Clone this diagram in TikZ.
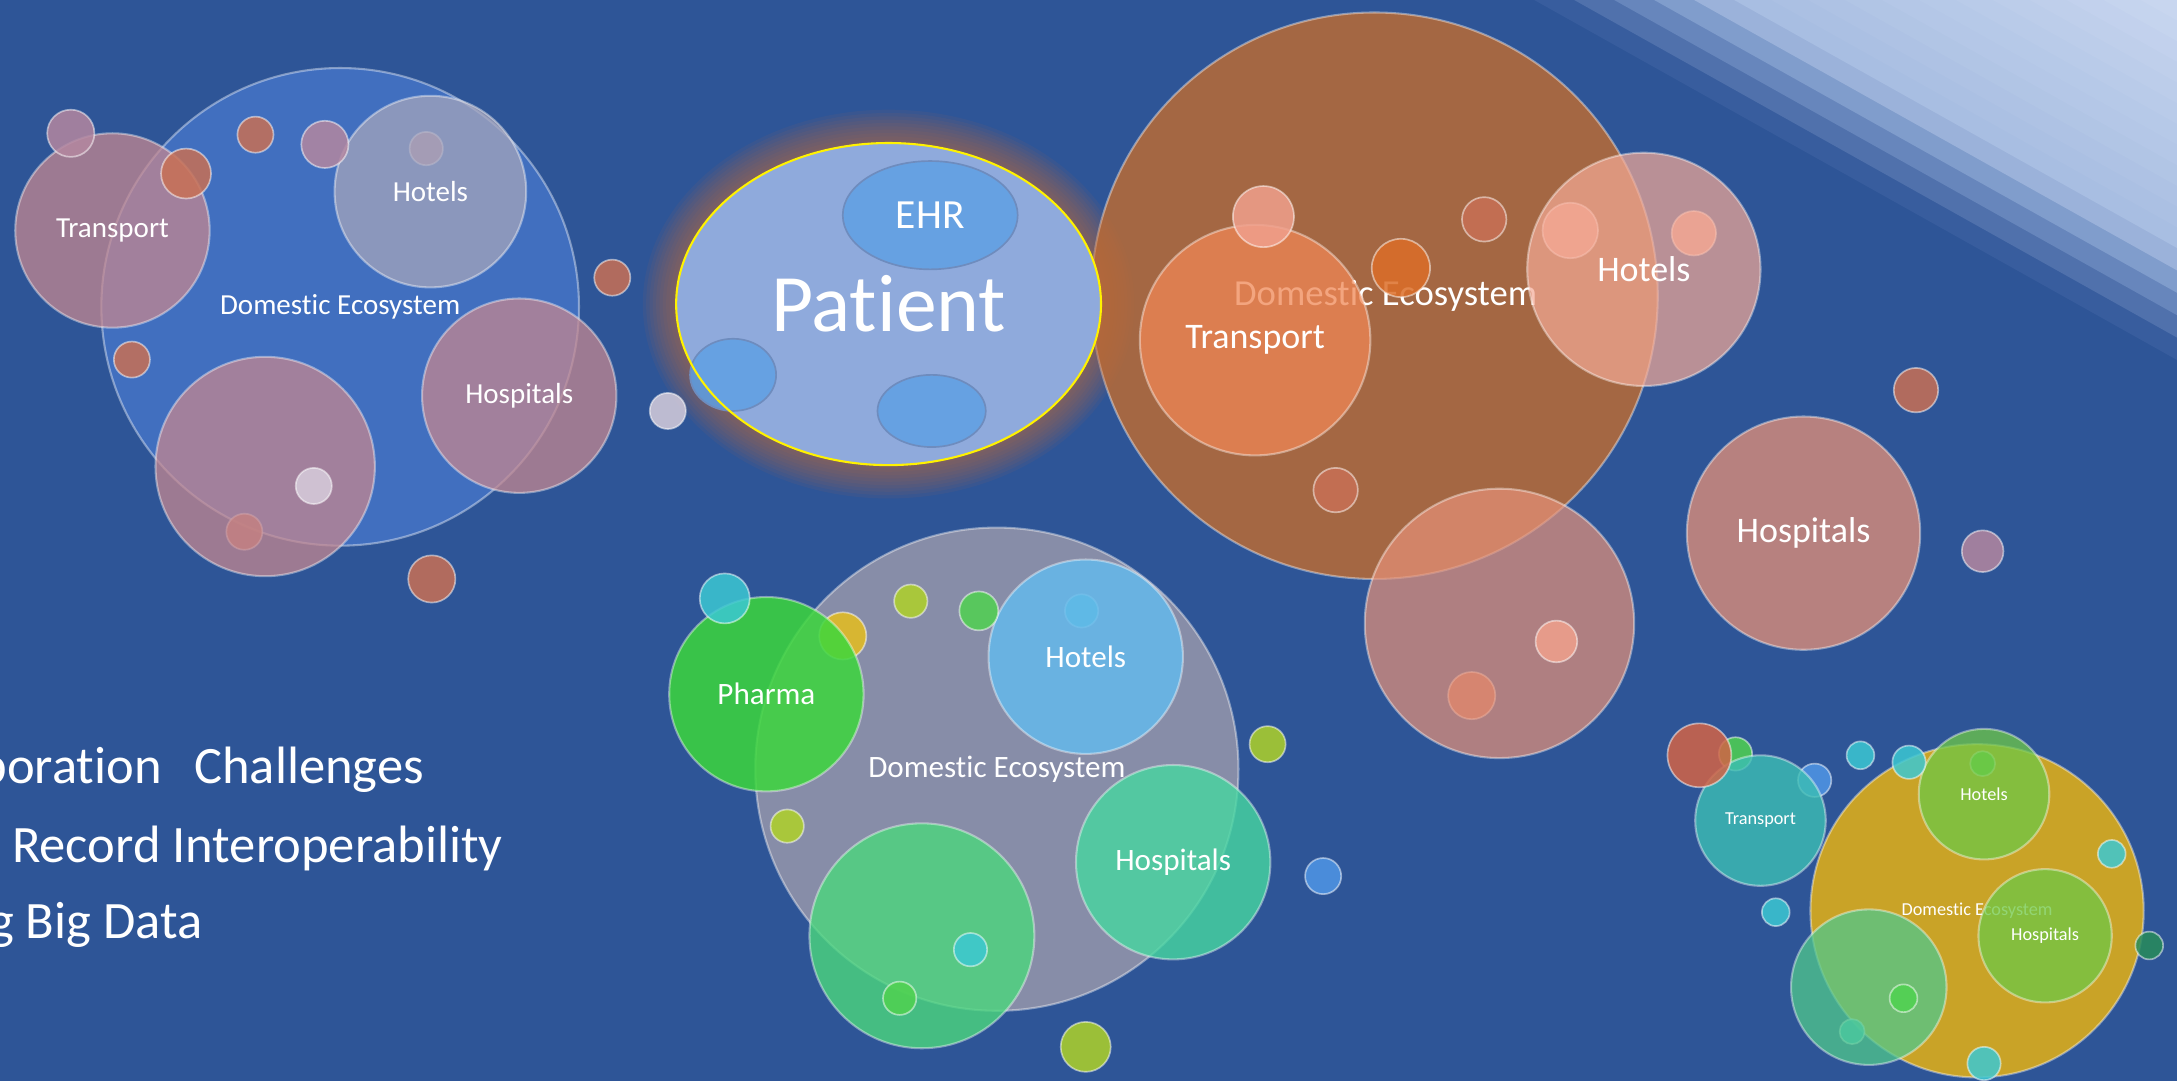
\documentclass[tikz,border=0pt]{standalone}
\usepackage{fontspec}
\setmainfont{Carlito}[Ligatures=NoCommon]
\usetikzlibrary{positioning}
\usetikzlibrary{shapes.geometric,backgrounds}

\definecolor{slidebg}{RGB}{46,85,151}
\definecolor{band1}{RGB}{56,93,158}
\definecolor{band2}{RGB}{80,113,172}
\definecolor{band3}{RGB}{103,134,188}
\definecolor{band4}{RGB}{128,157,204}
\definecolor{band5}{RGB}{155,178,218}
\definecolor{lightA}{RGB}{168,190,226}
\definecolor{lightB}{RGB}{200,214,239}
\definecolor{ecoblue}{RGB}{68,114,196}
\definecolor{pinkA}{RGB}{195,135,145}
\definecolor{hotelgrey}{RGB}{165,165,188}
\definecolor{orangeeco}{RGB}{175,105,60}
\definecolor{orangetr}{RGB}{240,135,85}
\definecolor{peach}{RGB}{245,170,150}
\definecolor{salmon}{RGB}{230,145,120}
\definecolor{greyeco}{RGB}{165,160,175}
\definecolor{pharmagreen}{RGB}{60,215,60}
\definecolor{hotelblue}{RGB}{100,185,235}
\definecolor{hospteal}{RGB}{70,215,160}
\definecolor{leafgreen}{RGB}{75,215,125}
\definecolor{mustard}{RGB}{215,170,30}
\definecolor{trteal}{RGB}{60,190,180}
\definecolor{limegreen}{RGB}{110,200,70}
\definecolor{brgreen}{RGB}{80,200,140}
\definecolor{patientfill}{RGB}{143,170,220}
\definecolor{ehrblue}{RGB}{95,160,228}
\definecolor{ehrrim}{RGB}{110,140,190}
\definecolor{glowc}{RGB}{195,108,60}
\definecolor{smorange}{RGB}{200,112,85}
\definecolor{darkor}{RGB}{220,110,40}
\definecolor{peachs}{RGB}{240,160,140}
\definecolor{smpink}{RGB}{180,135,160}
\definecolor{smwhite}{RGB}{215,205,220}
\definecolor{yelgreen}{RGB}{175,210,40}
\definecolor{smteal}{RGB}{60,200,210}
\definecolor{smgreen}{RGB}{80,210,80}
\definecolor{smblue}{RGB}{80,150,230}
\definecolor{smyellow}{RGB}{230,190,30}
\definecolor{redorange}{RGB}{210,100,70}
\definecolor{dkgreen}{RGB}{40,140,90}

\begin{document}
\begin{tikzpicture}[x=1bp,y=-1bp,
  bub/.style={circle,inner sep=0pt,minimum size=2*#1bp,draw=white,draw opacity=0.4,line width=1.5bp,fill opacity=0.75,text=white,text opacity=1},
  sbub/.style={circle,inner sep=0pt,minimum size=2*#1bp,draw=white,draw opacity=0.5,line width=1.2bp,fill opacity=0.85},
  ehrbub/.style={ellipse,inner sep=0pt,fill=ehrblue,fill opacity=0.85,draw=ehrrim,line width=1.2bp,text=white,text opacity=1},
  fs/.style={font=\fontsize{#1}{#1}\selectfont},
  listtext/.style={fs=38,text=white,inner sep=0pt}]
\useasboundingbox (0,0) rectangle (1568,778.6);
\clip (0,0) rectangle (1568,778.6);
\fill[slidebg] (0,0) rectangle (1568,778.6);
\foreach \a/\c in {1105/band1,1133.8/band2,1162.6/band3,1191.4/band4,1220.2/band5}
  \fill[\c] (\a,0) -- (1568,0) -- (1568,{0.56*(1568-\a)}) -- cycle;
\foreach \i in {0,...,11} {
  \pgfmathsetmacro\a{1249+26.6*\i}
  \pgfmathtruncatemacro\p{9*\i}
  \fill[lightB!\p!lightA] (\a,0) -- (1568,0) -- (1568,{0.56*(1568-\a)}) -- cycle;
}

\node[bub=172,fill=ecoblue,fill opacity=0.9,fs=21] (ecoA) at (245,221) {Domestic Ecosystem};
\foreach \x/\y/\r/\c [count=\i] in {307/107/12/smpink,176/383/13/smorange}
  \node[sbub=\r,fill=\c] (aIn\i) at (\x,\y) {};
\node[bub=70,fill=pinkA,fs=21] (transA) at (81,166) {Transport};
\node[bub=69,fill=hotelgrey,fs=21] (hotelA) at (310,138) {Hotels};
\node[bub=70,fill=pinkA,fs=21] (hospA) at (374,285) {Hospitals};
\node[bub=79,fill=pinkA] (restA) at (191,336) {};
\foreach \x/\y/\r/\c [count=\i] in {51/96/17/smpink,134/125/18/smorange,184/97/13/smorange,234/104/17/smpink,441/200/13/smorange,95/259/13/smorange,226/350/13/smwhite,311/417/17/smorange}
  \node[sbub=\r,fill=\c] (aOut\i) at (\x,\y) {};

\node[bub=204,fill=orangeeco,fill opacity=0.92] (ecoB) at (990,213) {};
\node[fs=26.5,text=white,inner sep=0pt] (ecoBtext) at (998,213) {Domestic Ecosystem};
\foreach \x/\y/\r/\c [count=\i] in {1131/166/20/peachs,1220/168/16/peachs,1060/501/17/smorange}
  \node[sbub=\r,fill=\c] (bIn\i) at (\x,\y) {};
\node[bub=83,fill=orangetr,fs=26] (transB) at (904,245) {Transport};
\node[bub=84,fill=peach,fill opacity=0.7,fs=26] (hotelB) at (1184,194) {Hotels};
\node[bub=97,fill=salmon,fill opacity=0.7] (restB) at (1080,449) {};
\node[bub=84,fill=salmon,fill opacity=0.75,fs=26] (hospB) at (1299,384) {Hospitals};
\foreach \x/\y/\r/\c [count=\i] in {910/156/22/peachs,1009/193/21/darkor,1069/158/16/smorange,962/353/16/smorange,1121/462/15/peachs,1380/281/16/smorange,1428/397/15/smpink}
  \node[sbub=\r,fill=\c] (bOut\i) at (\x,\y) {};

\node[bub=174,fill=greyeco,fs=22.5] (ecoC) at (718,554) {Domestic Ecosystem};
\foreach \x/\y/\r/\c [count=\i] in {607/458/17/smyellow,779/440/12/smteal}
  \node[sbub=\r,fill=\c] (cIn\i) at (\x,\y) {};
\node[bub=70,fill=pharmagreen,fill opacity=0.85,fs=22.5] (pharmaC) at (552,500) {Pharma};
\node[bub=70,fill=hotelblue,fill opacity=0.85,fs=22.5] (hotelC) at (782,473) {Hotels};
\node[bub=70,fill=hospteal,fill opacity=0.8,fs=22.5] (hospC) at (845,621) {Hospitals};
\node[bub=81,fill=leafgreen,fill opacity=0.8] (restC) at (664,674) {};
\foreach \x/\y/\r/\c [count=\i] in {522/431/18/smteal,656/433/12/yelgreen,705/440/14/smgreen,913/536/13/yelgreen,567/595/12/yelgreen,699/684/12/smteal,648/719/12/smgreen,953/631/13/smblue,782/754/18/yelgreen}
  \node[sbub=\r,fill=\c] (cOut\i) at (\x,\y) {};

\node[bub=120,fill=mustard,fill opacity=0.92,fs=13.2] (ecoD) at (1424,656) {Domestic Ecosystem};
\foreach \x/\y/\r/\c [count=\i] in {1428/550/9/smgreen,1334/743/9/smteal,1250/543/12/smgreen,1307/562/12/smblue}
  \node[sbub=\r,fill=\c] (dIn\i) at (\x,\y) {};
\node[bub=47,fill=trteal,fill opacity=0.8,fs=13.2] (transD) at (1268,591) {Transport};
\node[bub=47,fill=limegreen,fill opacity=0.75,fs=13.2] (hotelD) at (1429,572) {Hotels};
\node[bub=48,fill=limegreen,fill opacity=0.75,fs=13.2] (hospD) at (1473,674) {Hospitals};
\node[bub=56,fill=brgreen,fill opacity=0.75] (restD) at (1346,711) {};
\foreach \x/\y/\r/\c [count=\i] in {1224/544/23/redorange,1340/544/10/smteal,1375/549/12/smteal,1521/615/10/smteal,1279/657/10/smteal,1548/681/10/dkgreen,1371/719/10/smgreen,1429/766/12/smteal}
  \node[sbub=\r,fill=\c] (dOut\i) at (\x,\y) {};

\foreach \k in {1,...,10}
  \fill[glowc,opacity=0.075] (640,219) ellipse [x radius=153+2.4*\k, y radius=116+2.4*\k];
\node[ellipse,inner sep=0pt,fill=patientfill,minimum width=306bp,minimum height=232bp,text=white,fs=59] (patient) at (640,219) {Patient};
\node[ehrbub,minimum width=126bp,minimum height=78bp,fs=30] (ehr) at (670,155) {EHR};
\node[ehrbub,minimum width=62bp,minimum height=52bp] (recL) at (528,270) {};
\node[ehrbub,minimum width=78bp,minimum height=52bp] (recB) at (671,296) {};
\draw[yellow,line width=1.5bp] (patient) ellipse [x radius=153, y radius=116];
\node[sbub=13,fill=smwhite] (patDot) at (481,296) {};

\node[listtext,anchor=base west] (collab) at (-15,564) {boration\ \ \hspace{6.4bp}Challenges};
\node[listtext,anchor=base west] (record) at (8.5,621) {Record Interoperability};
\node[listtext,anchor=base west] (bigdata) at (-8,676) {g Big Data};
\end{tikzpicture}
\end{document}
